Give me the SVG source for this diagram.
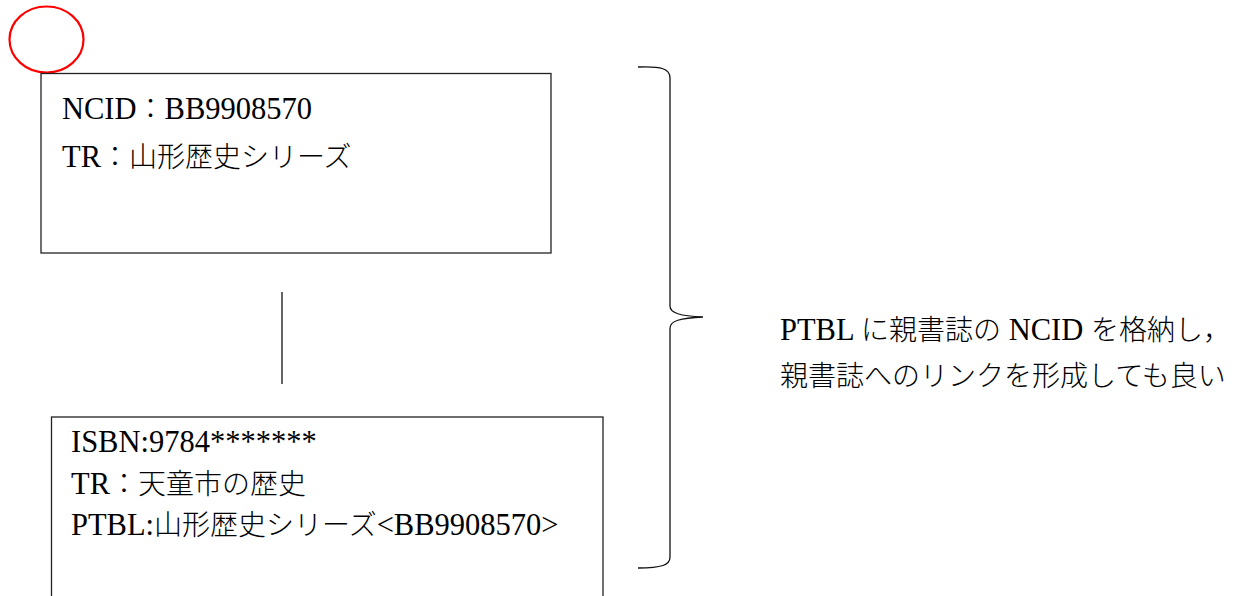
<svg xmlns="http://www.w3.org/2000/svg" width="1245" height="596" viewBox="0 0 1245 596">
<style>
.box{fill:#fff;stroke:#222;stroke-width:1.3}
.t{font-family:"Liberation Serif","Noto Sans CJK JP",serif;font-size:30.5px;fill:#000}
.j{font-family:"Noto Sans CJK JP","Liberation Serif",sans-serif;font-size:28px;font-weight:300}
.ln{fill:none;stroke:#111;stroke-width:1.3}
</style>
<rect width="1245" height="596" fill="#fff"/>
<ellipse id="marker-circle" cx="46.5" cy="39.5" rx="37" ry="33" fill="none" stroke="#f00" stroke-width="2.2"/>
<g id="parent">
<rect class="box" x="41" y="73.5" width="510" height="179.5"/>
<text class="t" x="62" y="119">NCID<tspan class="j">：</tspan>BB9908570</text>
<text class="t" x="62" y="167">TR<tspan class="j">：山形歴史シリーズ</tspan></text>
</g>
<g id="child">
<rect class="box" x="51.5" y="417" width="551.5" height="200"/>
<text class="t" x="71" y="452">ISBN:9784*******</text>
<text class="t" x="71" y="494">TR<tspan class="j">：天童市の歴史</tspan></text>
<text class="t" x="71" y="535">PTBL:<tspan class="j">山形歴史シリーズ</tspan>&lt;BB9908570&gt;</text>
</g>
<g id="connectors">
<line class="ln" x1="282" y1="292" x2="282" y2="384"/>
<path class="ln" d="M638,67 C662,66 670,69 670,78 L670,306 C670,313 680,316 703,317 C680,318 670,321 670,328 L670,557 C670,565 662,568 638,568"/>
</g>
<g id="note">
<text class="t" x="780" y="340">PTBL <tspan class="j">に親書誌の</tspan> NCID <tspan class="j">を格納し，</tspan></text>
<text class="t" x="780" y="386"><tspan class="j">親書誌へのリンクを形成しても良い</tspan></text>
</g>
</svg>
